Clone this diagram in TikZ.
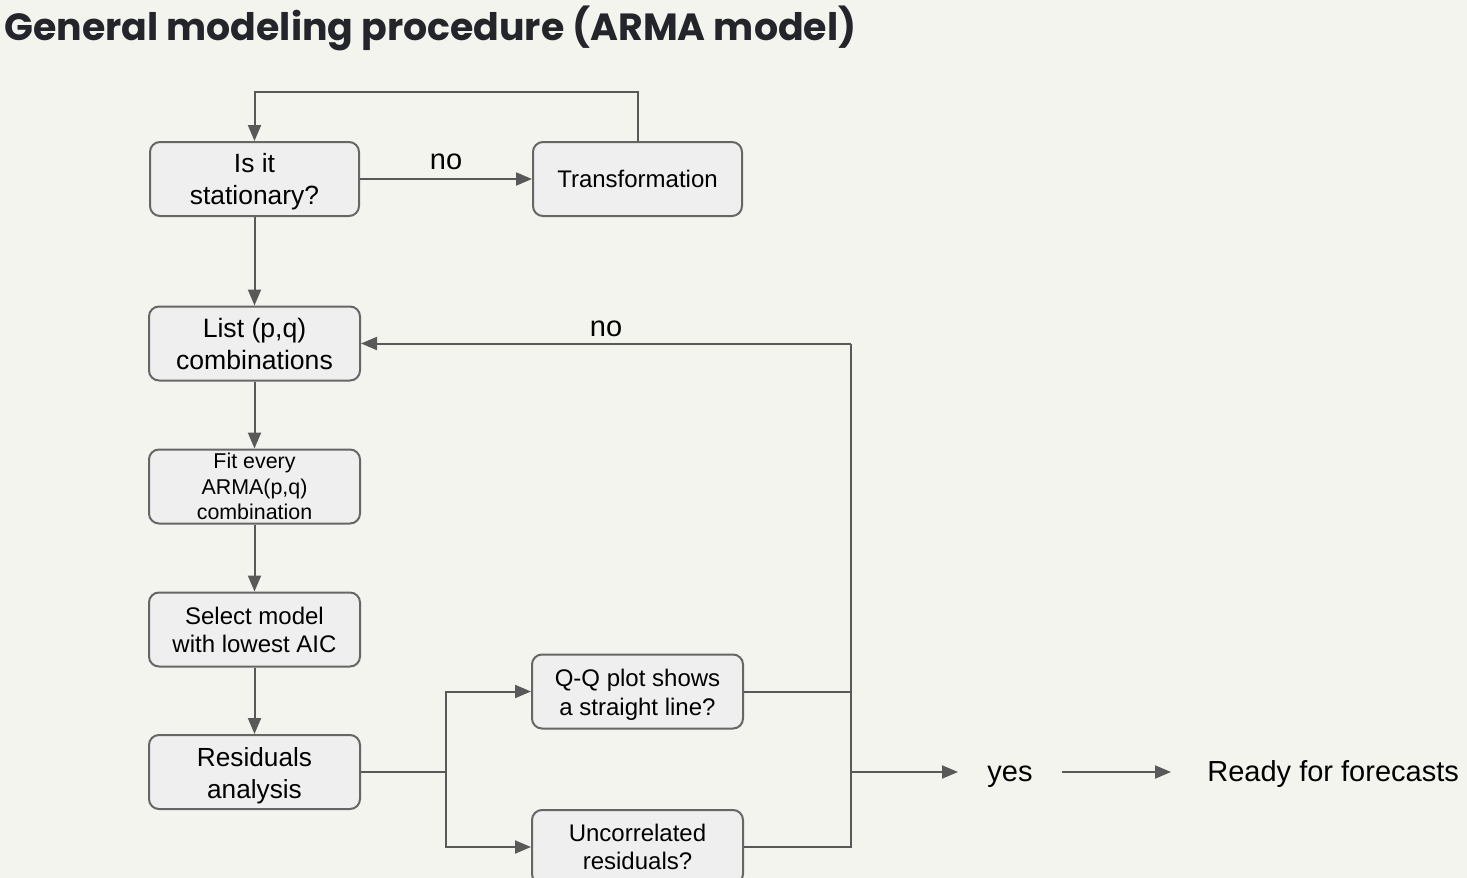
\documentclass[tikz,border=0pt]{standalone}
\usepackage{fontspec}
\setmainfont{Liberation Sans}
\newfontfamily\titlefont{Poppins}
\usetikzlibrary{arrows.meta}
\definecolor{bg}{HTML}{F4F4EF}
\definecolor{boxfill}{HTML}{EFEFEF}
\definecolor{boxline}{HTML}{666666}
\definecolor{conn}{HTML}{595959}
\definecolor{titlec}{HTML}{23252B}
\newcommand{\btxt}[2]{\raisebox{#1}[\height][\depth]{\begin{tabular}{@{}c@{}}#2\end{tabular}}}
\tikzset{
  stepbox/.style={draw=boxline, fill=boxfill, line width=1pt, rounded corners=5pt,
    minimum width=105.5pt, minimum height=37pt, align=center, inner sep=1pt, text=black},
  conline/.style={draw=conn, line width=1pt},
  arr/.style={conline, -{Triangle[length=8pt,width=6.5pt]}},
  lbl/.style={font=\fontsize{14.5}{17}\selectfont, text=black, inner sep=0pt},
}
\begin{document}
\begin{tikzpicture}[x=0.5pt,y=-0.5pt]
\fill[bg] (0,0) rectangle (1467,878);
\useasboundingbox (0,0) rectangle (1467,878);
\node[anchor=base west, inner sep=0pt, text=titlec] (title) at (4,40)
  {\resizebox{426pt}{!}{\titlefont\bfseries General modeling procedure (ARMA model)}};

\node[stepbox, minimum width=104.5pt, font=\fontsize{13.2}{16}\selectfont] (stat) at (254.5,179) {\btxt{-1.5pt}{Is it\\stationary?}};
\node[stepbox, minimum width=104.5pt, font=\fontsize{12}{14.5}\selectfont] (trans) at (637.5,179) {Transformation};
\node[stepbox, font=\fontsize{13.3}{16}\selectfont] (list) at (254.5,343.5) {List (p,q)\\combinations};
\node[stepbox, font=\fontsize{10.7}{12.75}\selectfont] (fit) at (254.5,486.5) {Fit every\\ARMA(p,q)\\combination};
\node[stepbox, font=\fontsize{12}{14}\selectfont] (sel) at (254.5,629.5) {Select model\\with lowest AIC};
\node[stepbox, font=\fontsize{13.1}{16}\selectfont] (res) at (254.5,772) {\btxt{-2pt}{Residuals\\analysis}};
\node[stepbox, font=\fontsize{12}{14.5}\selectfont] (qq) at (637.5,691.5) {\btxt{-2pt}{Q-Q plot shows\\a straight line?}};
\node[stepbox, font=\fontsize{12}{14}\selectfont] (unc) at (637.5,847) {Uncorrelated\\residuals?};

% top loop
\coordinate (tl1) at (637.5,92);
\coordinate (tl2) at (254.5,92);
\draw[arr] (trans.north) -- (tl1) -- (tl2) -- (stat.north);
\draw[arr] (stat.east) -- (trans.west);
\node[lbl, anchor=base] (no1) at (446,169) {no};
\draw[arr] (stat.south) -- (list.north);
\draw[arr] (list.south) -- (fit.north);
\draw[arr] (fit.south) -- (sel.north);
\draw[arr] (sel.south) -- (res.north);

% residual split
\coordinate (split) at (446,772);
\draw[conline] (res.east) -- (split);
\draw[arr] (split) |- (qq.west);
\draw[arr] (split) |- (unc.west);

% merge
\coordinate (mtop) at (851,343.5);
\coordinate (mmid) at (851,772);
\draw[conline] (qq.east) -- (851,691.5);
\draw[conline] (unc.east) -- (851,847) -- (mtop);
\draw[arr] (mtop) -- (list.east);
\node[lbl, anchor=base] (no2) at (606,336) {no};

\node[lbl, anchor=base] (yes) at (1010,781) {yes};
\draw[arr] (mmid) -- (958,772);
\coordinate (y1) at (1062,772);
\node[lbl, anchor=base west] (ready) at (1207,781) {Ready for forecasts};
\draw[arr] (y1) -- (1171,772);
\end{tikzpicture}
\end{document}
